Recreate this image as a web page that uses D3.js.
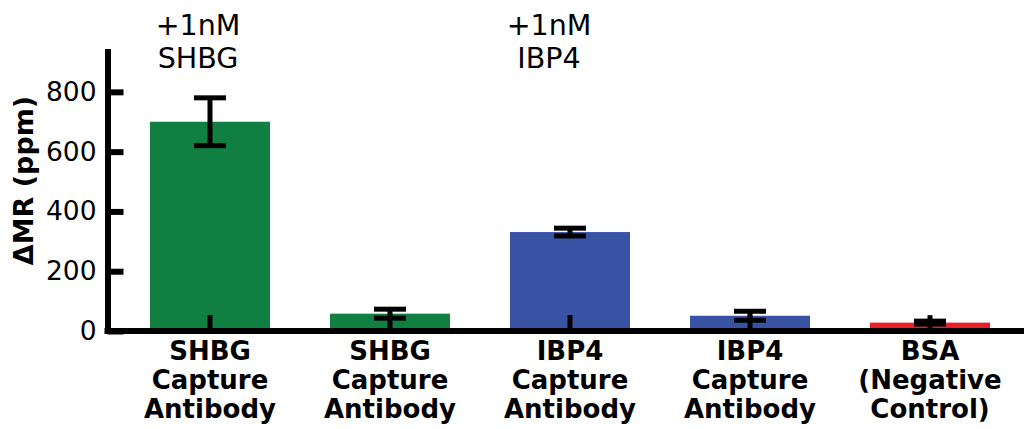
<!DOCTYPE html>
<html>
<head>
<meta charset="utf-8">
<script src="https://cdn.jsdelivr.net/npm/d3@7"></script>
<style>
  html, body { margin: 0; padding: 0; background: #fff; }
  svg { display: block; }
  text { font-family: "DejaVu Sans", Verdana, sans-serif; fill: #000; }
</style>
</head>
<body>
<svg id="chart" width="1024" height="429"></svg>
<script>
// Bar categories (each label is drawn as stacked lines)
const categories = ["c1", "c2", "c3", "c4", "c5"];
const categoryLines = [
  ["SHBG", "Capture", "Antibody"],
  ["SHBG", "Capture", "Antibody"],
  ["IBP4", "Capture", "Antibody"],
  ["IBP4", "Capture", "Antibody"],
  ["BSA", "(Negative", "Control)"]
];
// ΔMR response (ppm) and its error
const values = [700, 58, 331, 51, 28];
const errors = [80, 15, 13, 15, 5];
// short baseline marker at the foot of each bar (ppm)
const baseMarks = [53, 53, 53, 53, 53];
const barColors = ["#107f41", "#107f41", "#3953a4", "#3953a4", "#ea1f28"];
const yTicks = [0, 200, 400, 600, 800];
// analyte added, written above the bars that received it
const annotations = [
  { cat: "c1", lines: ["+1nM", "SHBG"] },
  { cat: "c3", lines: ["+1nM", "IBP4"] }
];

const svg = d3.select("#chart");

const x = d3.scaleBand()
  .domain(categories)
  .range([120, 1020])
  .paddingInner(1 / 3)
  .paddingOuter(1 / 6);

const y = d3.scaleLinear()
  .domain([0, 945])
  .range([331, 48.5]);

const rows = categories.map((c, i) => ({
  cat: c, v: values[i], e: errors[i], b: baseMarks[i], color: barColors[i], lines: categoryLines[i]
}));

// bars
svg.append("g").selectAll("rect")
  .data(rows)
  .join("rect")
  .attr("x", d => x(d.cat))
  .attr("width", x.bandwidth())
  .attr("y", d => y(d.v))
  .attr("height", d => y(0) - y(d.v))
  .attr("fill", d => d.color);

const cx = d => x(d.cat) + x.bandwidth() / 2;
const capHalf = 16;

// error bars and baseline markers
const eb = svg.append("g").attr("stroke", "#000").attr("stroke-width", 5);
eb.selectAll("line.base")
  .data(rows).join("line").attr("class", "base")
  .attr("x1", cx).attr("x2", cx)
  .attr("y1", y(0)).attr("y2", d => y(d.b));
eb.selectAll("line.stem")
  .data(rows).join("line").attr("class", "stem")
  .attr("x1", cx).attr("x2", cx)
  .attr("y1", d => y(d.v - d.e)).attr("y2", d => y(d.v + d.e));
eb.selectAll("line.capHi")
  .data(rows).join("line").attr("class", "capHi")
  .attr("x1", d => cx(d) - capHalf).attr("x2", d => cx(d) + capHalf)
  .attr("y1", d => y(d.v + d.e)).attr("y2", d => y(d.v + d.e));
eb.selectAll("line.capLo")
  .data(rows).join("line").attr("class", "capLo")
  .attr("x1", d => cx(d) - capHalf).attr("x2", d => cx(d) + capHalf)
  .attr("y1", d => y(d.v - d.e)).attr("y2", d => y(d.v - d.e));

// y axis with inward ticks
const yAxis = d3.axisLeft(y)
  .tickValues(yTicks)
  .tickFormat(d3.format("d"))
  .tickSizeInner(-16)
  .tickSizeOuter(0)
  .tickPadding(11);
const yg = svg.append("g").attr("transform", "translate(107.5,0)").call(yAxis);
yg.select(".domain").attr("stroke", "#000").attr("stroke-width", 6);
yg.selectAll(".tick line").attr("stroke", "#000").attr("stroke-width", 6);
yg.selectAll(".tick text")
  .attr("font-size", 26.5)
  .attr("font-family", "DejaVu Sans, sans-serif")
  .attr("fill", "#000");

// x axis baseline running to the right edge
svg.append("line")
  .attr("x1", 104.5).attr("x2", 1024)
  .attr("y1", y(0)).attr("y2", y(0))
  .attr("stroke", "#000").attr("stroke-width", 6);

// category labels
const xl = svg.append("g");
rows.forEach(d => {
  d.lines.forEach((t, j) => {
    xl.append("text")
      .attr("x", cx(d))
      .attr("y", 360 + j * 29)
      .attr("text-anchor", "middle")
      .attr("font-size", 26)
      .attr("font-weight", "bold")
      .text(t);
  });
});

// y axis title
svg.append("text")
  .attr("transform", "translate(33," + ((88 + 273) / 2) + ") rotate(-90)")
  .attr("text-anchor", "middle")
  .attr("font-size", 27)
  .attr("font-weight", "bold")
  .text("ΔMR (ppm)");

// annotations above bars
const annShift = { c1: -12, c3: -21 };
annotations.forEach(a => {
  a.lines.forEach((t, j) => {
    svg.append("text")
      .attr("x", x(a.cat) + x.bandwidth() / 2 + annShift[a.cat])
      .attr("y", 35 + j * 33)
      .attr("text-anchor", "middle")
      .attr("font-size", 28.5)
      .text(t);
  });
});
</script>
</body>
</html>
